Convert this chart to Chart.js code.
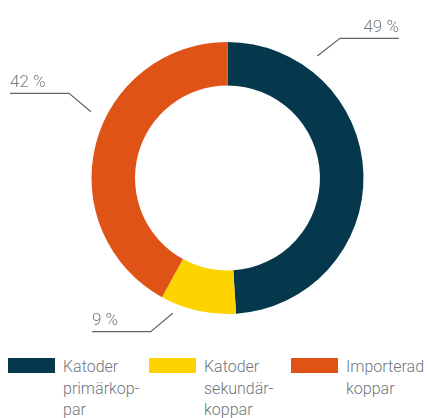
<!DOCTYPE html>
<html>
<head>
<meta charset="utf-8">
<script src="https://cdn.jsdelivr.net/npm/chart.js@4/dist/chart.umd.min.js"></script>
<style>
  body { margin: 0; background: #fff; }
  #wrap { position: relative; width: 428px; height: 418px; overflow: hidden; }
  #chart-box { position: absolute; left: 0; top: 0; width: 428px; height: 340px; }
  .legend-item { position: absolute; top: 358px; }
  .legend-box { position: absolute; left: 0; top: 0; width: 47px; height: 15px; }
  .legend-text {
    position: absolute; left: 55px; top: -2px; width: 90px;
    font-family: Roboto, sans-serif; font-weight: 300; font-size: 16px; line-height: 21.5px;
    color: #6e767e; white-space: nowrap;
  }
</style>
</head>
<body>
<div id="wrap">
  <div id="chart-box"><canvas id="copperChart"></canvas></div>
  <div id="legend"></div>
</div>
<script>
// data
const categories = ['Katoder primärkoppar', 'Katoder sekundärkoppar', 'Importerad koppar'];
const legendLines = [['Katoder', 'primärkop-', 'par'], ['Katoder', 'sekundär-', 'koppar'], ['Importerad', 'koppar']];
const shares = [49, 9, 42];
const colors = ['#05384c', '#fdd400', '#e05316'];

// leader lines: offsets from the doughnut centre
const leaders = [
    { anchor: [89.8, -122], elbow: [112.5, -139.7], endX: 171.5, align: 'right' },
    { anchor: [-54.8, 135.3], elbow: [-76.8, 153.7], endX: -135.5, align: 'left' },
    { anchor: [-136.5, -66.3], elbow: [-158.5, -84.7], endX: -217.5, align: 'left' }
];

const leaderPlugin = {
    id: 'leaderLabels',
    afterDraw(chart) {
        const arc = chart.getDatasetMeta(0).data[0];
        if (!arc) return;
        const cx = arc.x, cy = arc.y;
        const ctx = chart.ctx;
        ctx.save();
        ctx.strokeStyle = '#5d6670';
        ctx.lineWidth = 1.2;
        ctx.fillStyle = '#757d84';
        ctx.font = '300 17px Roboto, sans-serif';
        ctx.textBaseline = 'alphabetic';
        leaders.forEach((l, i) => {
            const ey = cy + l.elbow[1];
            ctx.beginPath();
            ctx.moveTo(cx + l.anchor[0], cy + l.anchor[1]);
            ctx.lineTo(cx + l.elbow[0], ey);
            ctx.lineTo(cx + l.endX, ey);
            ctx.stroke();
            ctx.textAlign = l.align;
            ctx.fillText(shares[i] + ' %', cx + l.endX, ey - 6.5);
        });
        ctx.restore();
    }
};

new Chart(document.getElementById('copperChart').getContext('2d'), {
    type: 'doughnut',
    data: {
        labels: categories,
        datasets: [{
            data: shares,
            backgroundColor: colors,
            borderWidth: 0,
            hoverOffset: 0
        }]
    },
    options: {
        responsive: true,
        maintainAspectRatio: false,
        animation: false,
        cutout: '68%',
        layout: { padding: { top: 42, bottom: 26, left: 27, right: 0 } },
        plugins: {
            legend: { display: false },
            tooltip: { enabled: false }
        }
    },
    plugins: [leaderPlugin]
});

// html legend
const legendX = [8, 149, 291];
const legendEl = document.getElementById('legend');
categories.forEach((c, i) => {
    const item = document.createElement('div');
    item.className = 'legend-item';
    item.style.left = legendX[i] + 'px';
    item.innerHTML = '<div class="legend-box" style="background:' + colors[i] + '"></div>' +
        '<div class="legend-text">' + legendLines[i].join('<br>') + '</div>';
    legendEl.appendChild(item);
});
</script>
</body>
</html>
